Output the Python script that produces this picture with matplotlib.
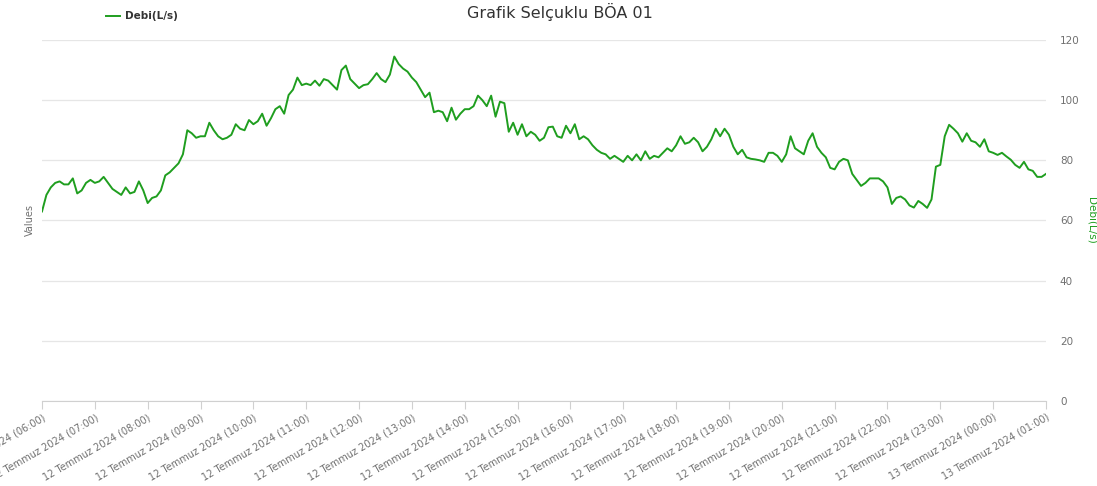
import numpy as np
import pandas as pd
import matplotlib
matplotlib.use("Agg")
import matplotlib.pyplot as plt
import matplotlib.dates as mdates

# data: Debi (L/s), 5-minute readings from 12 Temmuz 2024 06:00
start_time = "2024-07-12 06:00"
step = "5min"
debi = [
    63, 68.5, 71, 72.5, 73, 72, 72, 74, 69, 70,
    72.5, 73.5, 72.5, 73, 74.5, 72.5, 70.5, 69.5, 68.5, 71,
    69, 69.5, 73, 70, 65.8, 67.5, 68, 70, 75, 76,
    77.5, 79, 82, 90, 89, 87.5, 88, 88, 92.5, 90,
    88, 87, 87.5, 88.5, 92, 90.5, 90, 93.4, 92, 93,
    95.5, 91.5, 94, 97, 98, 95.5, 101.7, 103.5, 107.5, 105,
    105.5, 105, 106.5, 104.8, 107, 106.5, 105, 103.5, 110, 111.5,
    107, 105.5, 104, 105, 105.3, 107, 109, 107, 106, 108.5,
    114.5, 112, 110.5, 109.5, 107.5, 106, 103.5, 101, 102.5, 96,
    96.5, 96, 93, 97.5, 93.5, 95.5, 97, 97, 98, 101.5,
    100, 98, 101.5, 94.5, 99.5, 99, 89.5, 92.5, 88.5, 92,
    88, 89.5, 88.5, 86.5, 87.5, 91, 91.2, 88, 87.5, 91.5,
    89, 92, 87, 88, 87, 85, 83.5, 82.5, 82, 80.5,
    81.5, 80.5, 79.5, 81.5, 80, 82, 80, 83, 80.5, 81.5,
    81, 82.5, 84, 83, 85, 88, 85.5, 86, 87.5, 86,
    83, 84.5, 87, 90.5, 88, 90.5, 88.5, 84.5, 82, 83.5,
    81, 80.5, 80.3, 80, 79.5, 82.5, 82.5, 81.5, 79.5, 82,
    88, 84, 83, 82, 86.5, 89, 84.5, 82.5, 81, 77.5,
    77, 79.5, 80.5, 80, 75.5, 73.5, 71.5, 72.5, 74, 74,
    74, 73, 71, 65.5, 67.5, 68, 67, 65, 64.3, 66.5,
    65.5, 64.2, 67, 77.9, 78.5, 88, 91.8, 90.5, 89, 86.2,
    89, 86.5, 86, 84.5, 87, 83, 82.5, 81.8, 82.5, 81.3,
    80.2, 78.5, 77.5, 79.5, 77, 76.5, 74.5, 74.5, 75.5,
]
times = pd.date_range(start_time, periods=len(debi), freq=step)
y_ticks = [0, 20, 40, 60, 80, 100, 120]

line_color = "#1f9e1f"
text_gray = "#707070"

fig = plt.figure(figsize=(10.97, 4.86), dpi=100)
ax = fig.add_axes([42 / 1097, 85 / 486, 1004 / 1097, 361 / 486])

ax.plot(times, debi, color=line_color, linewidth=1.4, label="Debi(L/s)")

ax.set_ylim(0, 120)
ax.set_yticks(y_ticks)
ax.set_xlim(times[0], times[-1])
ax.yaxis.tick_right()
ax.grid(axis="y", color="#e6e6e6", linewidth=0.9)
ax.set_axisbelow(True)
for side in ["top", "left", "right"]:
    ax.spines[side].set_visible(False)
ax.spines["bottom"].set_color("#d0d0d0")

ax.tick_params(axis="y", length=0, pad=10, labelsize=7.5, labelcolor=text_gray)
ax.tick_params(axis="x", length=6, color="#d0d0d0", pad=2, labelsize=7, labelcolor=text_gray)

ax.xaxis.set_major_locator(mdates.HourLocator())
ax.xaxis.set_major_formatter(mdates.DateFormatter("%d Temmuz %Y (%H:%M)"))
plt.setp(ax.get_xticklabels(), rotation=30, ha="right", rotation_mode="anchor")

ax.yaxis.set_label_position("right")
ax.set_ylabel("Debi(L/s)", color=line_color, fontsize=7.5, rotation=-90, labelpad=12)

fig.text(30 / 1097, 1 - 220 / 486, "Values", rotation=90, ha="center", va="center",
         fontsize=7, color=text_gray)
fig.text(560 / 1097, 1 - 12 / 486, "Grafik Selçuklu BÖA 01", ha="center", va="center",
         fontsize=11.5, color="#333333")

ax.legend(loc="upper left", bbox_to_anchor=(60 / 1004, 1 + 33 / 361), frameon=False,
          prop={"size": 7.5, "weight": "bold"}, labelcolor="#333333",
          handlelength=1.3, handletextpad=0.5, borderaxespad=0)

fig.savefig("out.png", dpi=100)
